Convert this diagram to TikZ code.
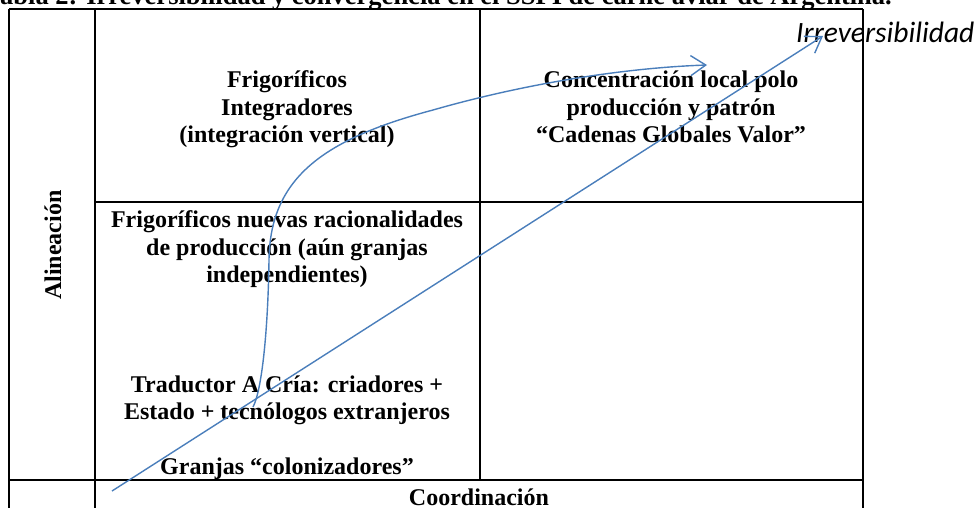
\documentclass[tikz,border=0pt]{standalone}
\usepackage{fontspec}
\setmainfont{Liberation Serif}
\newfontfamily\calibfont{Carlito}
\usetikzlibrary{arrows.meta}
\definecolor{arrblue}{RGB}{74,126,187}
\begin{document}
\begin{tikzpicture}[x=1pt,y=-1pt,
  grid/.style={line width=1.7pt, black},
  cell/.style={font=\fontsize{24}{27.6}\selectfont\bfseries, inner sep=0pt, anchor=base},
  flow/.style={arrblue, line width=1.4pt, line join=round,
    -{Straight Barb[length=15pt,width=20pt,line width=1.4pt]}}]
\useasboundingbox (0,0) rectangle (976,507);
\clip (0,0) rectangle (976,507);
% title (cut off at the top)
\node[cell, font=\fontsize{26.5}{30}\selectfont\bfseries, anchor=base east] (title) at (892,4) {Tabla 2: Irreversibilidad y convergencia en el SSPI de carne aviar de Argentina.};
% table grid
\draw[grid] (9,9) -- (863,9);
\draw[grid] (9,9) -- (9,510);
\draw[grid] (95,9) -- (95,510);
\draw[grid] (480,9) -- (480,480);
\draw[grid] (863,9) -- (863,510);
\draw[grid] (95,202) -- (863,202);
\draw[grid] (9,480) -- (863,480);
% cell texts
\node[cell] (a1) at (287,87) {Frigoríficos};
\node[cell] (a2) at (287,115) {Integradores};
\node[cell] (a3) at (287,142) {(integración vertical)};
\node[cell] (b1) at (671,87) {Concentración local polo};
\node[cell] (b2) at (671,115) {producción y patrón};
\node[cell] (b3) at (671,142) {“Cadenas Globales Valor”};
\node[cell] (c1) at (287,227) {Frigoríficos nuevas racionalidades};
\node[cell] (c2) at (287,255) {de producción (aún granjas};
\node[cell] (c3) at (287,282) {independientes)};
\node[cell] (d1) at (287,392) {Traductor A Cría: criadores +};
\node[cell] (d2) at (287,419) {Estado + tecnólogos extranjeros};
\node[cell] (d3) at (287,474) {Granjas “colonizadores”};
\node[cell] (coord) at (479,505) {Coordinación};
\node[cell, anchor=center, rotate=90] (alin) at (53,245) {Alineación};
\node[font=\fontsize{29.5}{32}\selectfont\calibfont\itshape, inner sep=0pt, anchor=base west] (irr) at (796,42) {Irreversibilidad};
% arrows
\coordinate (s1) at (112,491);
\coordinate (e1) at (823,36);
\coordinate (s2) at (253,407);
\coordinate (m2) at (269,260);
\coordinate (n2) at (433,110);
\coordinate (e2) at (707,65);
\draw[flow] (s1) -- (e1);
\draw[flow] (s2) .. controls (262,390) and (268,330) .. (m2)
  .. controls (270,180) and (320,140) .. (n2)
  .. controls (520,85) and (620,68) .. (e2);
\end{tikzpicture}
\end{document}
